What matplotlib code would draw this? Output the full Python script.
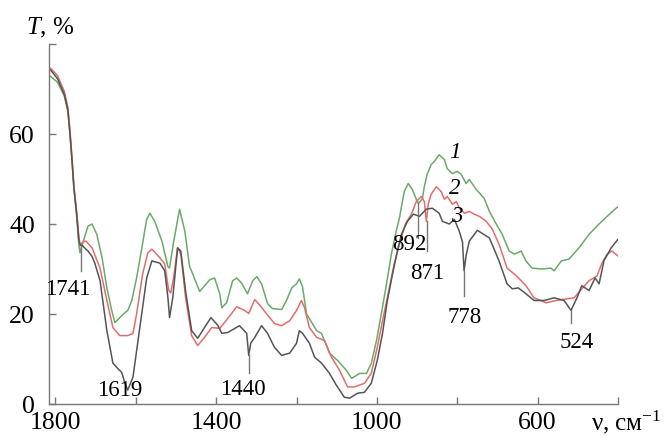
import matplotlib
matplotlib.use("Agg")
import matplotlib.pyplot as plt

# serif font like the journal figure
plt.rcParams['font.family'] = 'serif'
plt.rcParams['font.serif'] = ['Liberation Serif', 'DejaVu Serif']
plt.rcParams['mathtext.fontset'] = 'custom'
plt.rcParams['mathtext.rm'] = 'Liberation Serif'
plt.rcParams['mathtext.it'] = 'Liberation Serif:italic'

# Spectrum 1 (green)
wn_1 = [1812, 1795, 1778, 1769, 1764, 1759, 1754, 1747, 1742, 1739, 1732, 1719, 1709, 1697,
        1684, 1672, 1660, 1652, 1640, 1627, 1620, 1610, 1598, 1585, 1573, 1565, 1553, 1535,
        1520, 1516, 1506, 1491, 1478, 1466, 1461, 1441, 1416, 1404, 1391, 1386, 1374, 1359,
        1349, 1337, 1322, 1309, 1299, 1287, 1272, 1260, 1237, 1225, 1212, 1200, 1193, 1185,
        1175, 1168, 1150, 1138, 1118, 1098, 1076, 1063, 1043, 1026, 1014, 1001, 989, 976,
        964, 952, 944, 932, 922, 912, 902, 897, 887, 882, 875, 865, 857, 845, 832, 825, 812,
        800, 790, 778, 770, 753, 733, 720, 703, 688, 671, 658, 641, 629, 614, 589, 567, 559,
        541, 522, 497, 472, 447, 427, 405, 400]
t_1 = [72.8, 71.5, 68.5, 65.0, 60.0, 54.3, 47.9, 41.5, 35.5, 33.6, 35.8, 39.5, 40.0, 37.7,
       32.5, 25.8, 20.8, 18.1, 19.2, 20.3, 20.8, 23.0, 28.0, 34.7, 41.0, 42.4, 40.6, 36.2,
       30.5, 30.2, 36.0, 43.3, 38.4, 30.5, 29.5, 25.0, 27.6, 28.0, 24.5, 21.4, 22.5, 27.4,
       28.0, 26.9, 24.5, 27.4, 28.3, 26.7, 22.3, 21.2, 21.0, 23.0, 25.8, 26.7, 27.8, 26.0,
       20.0, 19.0, 16.3, 15.7, 11.3, 9.7, 7.5, 5.7, 6.8, 6.8, 9.0, 14.1, 20.0, 26.7,
       33.3, 38.4, 41.3, 47.2, 49.0, 47.7, 45.5, 44.6, 45.5, 48.3, 51.0, 53.2, 53.9, 55.4, 54.3, 52.3, 51.2,
       51.7, 51.0, 49.0, 49.9, 47.7, 45.7, 42.8, 40.0, 37.7, 34.0, 33.3, 34.0, 31.8, 30.2, 30.0, 30.2, 29.6,
       31.8, 32.2, 34.7, 37.7, 40.0, 41.7, 43.5, 43.8]

# Spectrum 2 (red)
wn_2 = [1812, 1795, 1778, 1769, 1764, 1759, 1754, 1747, 1742, 1739, 1732, 1724, 1709, 1689,
        1672, 1657, 1640, 1620, 1607, 1598, 1583, 1570, 1560, 1540, 1528, 1518, 1513, 1506,
        1496, 1488, 1476, 1461, 1446, 1429, 1411, 1391, 1366, 1349, 1329, 1319, 1304, 1292,
        1275, 1255, 1237, 1217, 1200, 1188, 1180, 1168, 1150, 1130, 1113, 1093, 1073, 1056,
        1031, 1014, 999, 986, 969, 957, 944, 929, 914, 902, 889, 882, 877, 872, 865, 852,
        840, 832, 825, 812, 802, 795, 782, 770, 758, 745, 728, 713, 696, 676, 653, 629,
        609, 579, 554, 525, 509, 490, 472, 452, 440, 427, 415, 400]
t_2 = [74.6, 73.0, 69.5, 66.0, 61.0, 55.0, 48.5, 42.5, 37.5, 35.1, 36.0, 36.2, 34.7, 30.2,
       23.0, 17.0, 15.2, 15.2, 15.7, 20.0, 28.9, 33.6, 34.4, 32.5, 31.1, 25.2, 24.7, 28.0,
       34.7, 33.3, 23.6, 15.2, 13.0, 14.8, 17.0, 16.8, 19.6, 21.6, 20.8, 20.1, 23.2, 22.0,
       20.1, 17.9, 17.4, 18.5, 20.8, 23.0, 21.4, 17.0, 14.8, 14.1, 10.4, 7.5, 3.8, 3.8,
       4.6, 6.8, 12.6, 18.5, 25.8, 31.1, 35.5, 40.0, 42.2, 45.0, 46.1, 45.0, 40.6, 44.5, 46.6, 48.3,
       47.2, 45.5, 46.1, 44.4, 45.0, 43.5, 42.4, 42.8, 42.2, 41.7, 40.6, 38.9, 35.5, 30.2, 28.5, 26.3,
       23.6, 22.5, 23.0, 23.4, 23.6, 25.6, 27.4, 28.5, 31.3, 33.3, 34.0, 32.9]

# Spectrum 3 (dark grey)
wn_3 = [1812, 1795, 1778, 1769, 1764, 1759, 1754, 1747, 1742, 1738, 1734, 1724, 1719, 1709,
        1702, 1689, 1672, 1657, 1645, 1635, 1627, 1620, 1607, 1590, 1573, 1560, 1540, 1528,
        1520, 1516, 1508, 1496, 1488, 1476, 1461, 1446, 1429, 1413, 1396, 1386, 1371, 1342,
        1324, 1319, 1314, 1304, 1287, 1272, 1255, 1237, 1217, 1200, 1193, 1185, 1168, 1155,
        1138, 1118, 1101, 1081, 1068, 1048, 1031, 1014, 999, 986, 974, 961, 949, 939, 924,
        909, 894, 877, 862, 845, 837, 820, 807, 795, 787, 783, 778, 770, 750, 720, 696, 676,
        663, 648, 629, 609, 584, 559, 534, 517, 502, 490, 472, 457, 447, 435, 417, 400]
t_3 = [74.2, 72.3, 68.8, 65.3, 60.3, 54.5, 47.9, 42.2, 36.6, 35.3, 35.3, 34.4, 34.0, 32.8,
       31.3, 27.4, 16.3, 9.1, 7.9, 7.0, 4.6, 3.1, 6.0, 17.0, 28.0, 31.8, 31.3, 29.6,
       23.6, 19.2, 23.6, 34.7, 34.0, 25.0, 16.3, 14.6, 17.0, 19.2, 17.5, 15.7, 15.9, 17.4,
       15.7, 10.8, 13.5, 14.8, 17.4, 15.7, 12.6, 10.8, 11.3, 13.5, 16.3, 15.7, 13.5, 10.4,
       9.1, 6.8, 4.2, 1.5, 1.3, 2.4, 2.6, 4.6, 9.7, 15.7, 23.0, 28.9, 34.0, 37.7, 40.6,
       42.2, 41.7, 43.3, 43.5, 42.4, 40.6, 40.0, 41.0, 38.4, 36.0, 29.6, 33.0, 36.2, 38.6, 36.9, 31.8, 26.7,
       25.6, 25.8, 24.5, 23.0, 23.0, 23.6, 23.0, 20.8, 23.6, 26.3, 25.2, 28.0, 26.7, 31.8, 34.7, 36.6]

# Marked bands: label text, line position, line top/bottom, label position
band_text = ['1741', '1619', '1440', '892', '871', '778', '524']
band_line_x = [1736, None, 1319, 897, 876, 783, 517]
band_line_top = [35.0, None, 10.8, 44.6, 40.6, 29.6, 20.8]
band_line_bottom = [29.5, None, 6.8, 36.9, 34.0, 24.0, 17.9]
band_label_x = [1770, 1640, 1334, 919, 874, 782, 502]
band_label_y = [25.4, 3.1, 3.3, 35.5, 29.1, 19.2, 13.7]

curve_names = ['1', '2', '3']
curve_label_x = [807, 807, 802]
curve_label_y = [56.0, 47.9, 41.7]

colors = ['#6aaa6a', '#e26d6d', '#555555']

fig = plt.figure(figsize=(6.65, 4.37), dpi=100)
ax = fig.add_axes([0.0737, 0.0755, 0.8556, 0.8238])

ax.plot(wn_1, t_1, color=colors[0], lw=1.1)
ax.plot(wn_2, t_2, color=colors[1], lw=1.1)
ax.plot(wn_3, t_3, color=colors[2], lw=1.1)

for txt, lx, ltop, lbot, tx, ty in zip(band_text, band_line_x, band_line_top,
                                       band_line_bottom, band_label_x, band_label_y):
    if lx is not None:
        ax.plot([lx, lx], [ltop, lbot], color='#777777', lw=1.0)
    ax.text(tx, ty, txt, fontsize=16.5, ha='center', va='center')

for name, cx, cy in zip(curve_names, curve_label_x, curve_label_y):
    ax.text(cx, cy, name, fontsize=16.5, style='italic', ha='center', va='center')

ax.set_xlim(1816, 400)
ax.set_ylim(0, 80)

ax.set_xticks([1800, 1600, 1400, 1200, 1000, 800, 600, 400])
ax.set_xticklabels(['1800', '', '1400', '', '1000', '', '600', ''])
ax.set_yticks([0, 20, 40, 60, 80])
ax.set_yticklabels(['0', '20', '40', '60', ''])

for side in ['top', 'right']:
    ax.spines[side].set_visible(False)
for side in ['left', 'bottom']:
    ax.spines[side].set_color('#777777')
    ax.spines[side].set_linewidth(1.0)

ax.tick_params(direction='in', length=5, width=1.0, color='#777777',
               labelsize=18.5, pad=6)
ax.tick_params(axis='y', pad=10)

fig.text(0.075, 0.936, '$T$, %', fontsize=18, ha='center', va='center')
fig.text(0.888, 0.014, 'ν, см$^{-1}$', fontsize=18, ha='left', va='baseline')

fig.savefig('out.png', dpi=100)
